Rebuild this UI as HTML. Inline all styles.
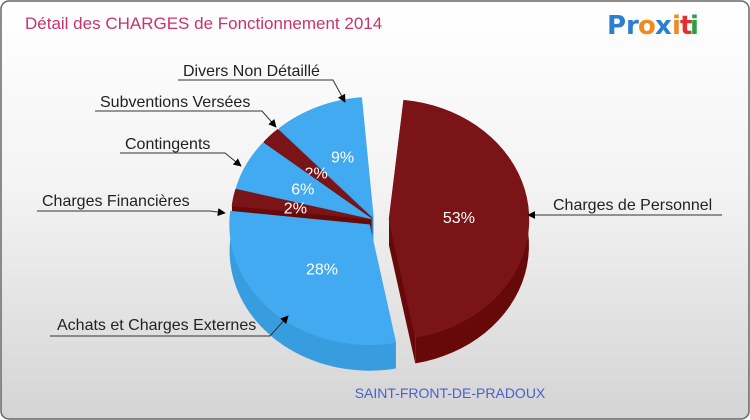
<!DOCTYPE html>
<html><head><meta charset="utf-8"><style>
body{margin:0;background:#fff}
#wrap{position:relative;width:750px;height:420px;overflow:hidden;font-family:"Liberation Sans",sans-serif}
svg{position:absolute;left:0;top:0}
</style></head><body>
<div id="wrap">
<svg id="chart" width="750" height="420">
<defs><linearGradient id="bg" x1="0" y1="0" x2="0" y2="1"><stop offset="0" stop-color="#ffffff"/><stop offset="0.45" stop-color="#f3f3f3"/><stop offset="1" stop-color="#d4d4d4"/></linearGradient>
<marker id="arr" viewBox="0 0 10 10" refX="9" refY="5" markerWidth="8" markerHeight="8" orient="auto"><path d="M0,0L10,5L0,10z" fill="#000"/></marker></defs>
<rect x="1" y="1" width="748" height="418" rx="8" fill="url(#bg)" stroke="#666" stroke-width="1.5"/>
<text x="25" y="29" font-size="17" fill="#c8336e">Détail des CHARGES de Fonctionnement 2014</text>
<g font-size="26" font-weight="bold" font-family="'DejaVu Sans',sans-serif">
<text x="607" y="34" fill="#2a7fd0">Pr</text><text x="638" y="34" fill="#f08a1c">o</text><text x="655" y="34" fill="#2a7fd0">x</text><text x="672" y="34" fill="#f08a1c">i</text><text x="680" y="34" fill="#e03030">t</text><text x="690" y="34" fill="#2aa040">i</text></g>
<g id="pie"></g>
<g id="labels" font-size="16" fill="#222"></g>
<text x="450" y="398" font-size="14" fill="#4b5fd0" text-anchor="middle">SAINT-FRONT-DE-PRADOUX</text>
</svg>
</div>
<script>
const categories=["Charges de Personnel","Achats et Charges Externes","Charges Financières","Contingents","Subventions Versées","Divers Non Détaillé"];
const values=[53,28,2,6,2,9];
const labelText=["53%","28%","2%","6%","2%","9%"];
const NS="http://www.w3.org/2000/svg";
const cx=375,cy=220,rx=140,ry=120,depth=26;
const tops=["#7b1416","#42aaf0"],sides=["#680909","#389ddf"];
const explode=[14,8,4,4,4,4];
const total=values.reduce((a,b)=>a+b,0);
function warp(th){return 6+th*0.97-22*Math.sin(th*Math.PI/360);}
function pt(x0,y0,t,dz){const r=t*Math.PI/180;return [x0+rx*Math.sin(r),y0-ry*Math.cos(r)+dz];}
function mk(tag,attrs,parent){const e=document.createElementNS(NS,tag);for(const k in attrs)e.setAttribute(k,attrs[k]);parent.appendChild(e);return e;}
const pie=document.getElementById('pie');
let acc=0;const slices=[];
values.forEach((v,i)=>{const a=warp(acc/total*360);acc+=v;const b=warp(acc/total*360);slices.push({i,a,b,mid:(a+b)/2});});
const order=slices.slice().sort((p,q)=>(-Math.cos(p.mid*Math.PI/180))-(-Math.cos(q.mid*Math.PI/180)));
order.forEach(s=>{
 const m=s.mid*Math.PI/180,e=explode[s.i];
 const x0=cx+e*Math.sin(m),y0=cy-e*Math.cos(m)*0.8;
 const g=mk('g',{},pie);
 
 
 const ci=s.i%2;
 [s.a,s.b].forEach(t=>{const p=pt(x0,y0,t,0);mk('path',{d:`M${x0},${y0}L${p[0]},${p[1]}L${p[0]},${p[1]+depth}L${x0},${y0+depth}Z`,fill:sides[ci]},g);});
 const n=40;const ptsT=[],ptsB=[];
 for(let k=0;k<=n;k++){const t=s.a+(s.b-s.a)*k/n;ptsT.push(pt(x0,y0,t,0));ptsB.push(pt(x0,y0,t,depth));}
 const d='M'+ptsT.map(p=>p.join(',')).join('L')+'L'+ptsB.reverse().map(p=>p.join(',')).join('L')+'Z';
 mk('path',{d,fill:sides[ci]},g);
 const tp=[];for(let k=0;k<=n;k++){tp.push(pt(x0,y0,s.a+(s.b-s.a)*k/n,0));}
 mk('path',{d:`M${x0},${y0}L`+tp.map(p=>p.join(',')).join('L')+'Z',fill:tops[ci],stroke:tops[ci],'stroke-width':0.5},g);
 const lp=pt(x0,y0,s.mid,0);const f=s.i<2?0.5:0.55;
 const tx=mk('text',{x:x0+(lp[0]-x0)*f,y:y0+(lp[1]-y0)*f+6,'font-size':16,fill:'#fff','text-anchor':'middle'},g);
 tx.textContent=labelText[s.i];
});
const L=document.getElementById('labels');
const callouts=[
 {i:0,tx:553,ty:210,line:"M722,215L547,215L528,215"},
 {i:1,tx:57,ty:330,line:"M50,336L270,336L288,316"},
 {i:2,tx:42,ty:206,line:"M37,211L210,211L225,213"},
 {i:3,tx:125,ty:149,line:"M120,153L225,153L241,166"},
 {i:4,tx:100,ty:107,line:"M95,111L262,111L276,127"},
 {i:5,tx:183,ty:76,line:"M178,80L333,80L345,102"}];
callouts.forEach(c=>{
 const t=mk('text',{x:c.tx,y:c.ty},L);t.textContent=categories[c.i];
 
 
 const p=mk('path',{d:c.line,fill:'none',stroke:'#333','stroke-width':1,'marker-end':'url(#arr)'},L);
 
 
});
</script>
</body></html>
